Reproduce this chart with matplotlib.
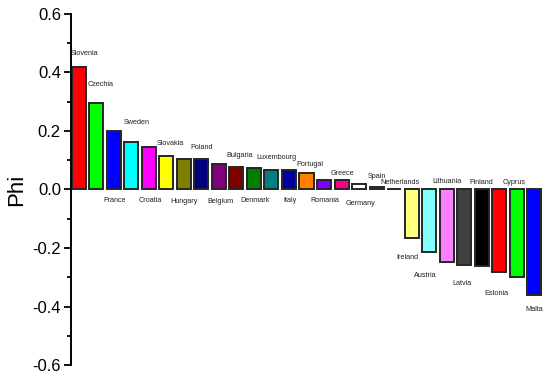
import matplotlib
matplotlib.use("Agg")
import matplotlib.pyplot as plt
from matplotlib.ticker import MultipleLocator

plt.rcParams['font.family'] = ['Liberation Sans', 'DejaVu Sans']

countries = ["Slovenia", "Czechia", "France", "Sweden", "Croatia", "Slovakia", "Hungary",
             "Poland", "Belgium", "Bulgaria", "Denmark", "Luxembourg", "Italy", "Portugal",
             "Romania", "Greece", "Germany", "Spain", "Netherlands", "Ireland", "Austria",
             "Lithuania", "Latvia", "Finland", "Estonia", "Cyprus", "Malta"]
phi = [0.418, 0.295, 0.199, 0.161, 0.144, 0.115, 0.105,
       0.104, 0.088, 0.076, 0.074, 0.068, 0.067, 0.057,
       0.033, 0.031, 0.019, 0.008, 0.003, -0.166, -0.214,
       -0.248, -0.258, -0.262, -0.283, -0.300, -0.360]
colors = ["#FF0000", "#00FF00", "#0000FF", "#00FFFF", "#FF00FF", "#FFFF00", "#808000",
          "#000080", "#800080", "#800000", "#008000", "#008080", "#0000A0", "#FF8000",
          "#8000FF", "#FF0080", "#FFFFFF", "#C0C0C0", "#808080", "#FFFF80", "#80FFFF",
          "#FF80FF", "#404040", "#000000", "#FF0000", "#00FF00", "#0000FF"]
# label placement (annotation positions)
label_y = [0.464, 0.358, -0.037, 0.229, -0.037, 0.156, -0.040,
           0.145, -0.041, 0.116, -0.036, 0.108, -0.038, 0.085,
           -0.038, 0.056, -0.047, 0.045, 0.025, -0.231, -0.294,
           0.028, -0.320, 0.025, -0.357, 0.025, -0.411]
label_dx = [0.33, 0.27, 0.07, 0.3, 0.1, 0.25, 0.0,
            0.0, 0.07, 0.2, 0.05, 0.27, 0.05, 0.19,
            0.05, 0.07, 0.1, 0.0, 0.36, -0.24, -0.22,
            0.0, -0.1, 0.0, -0.15, -0.14, 0.0]

fig = plt.figure(figsize=(5.5, 3.77), dpi=100)
ax = fig.add_axes([0.1285, 0.0318, 0.862, 0.9312])

x = list(range(len(countries)))
ax.bar(x, phi, width=0.8, color=colors, edgecolor="#262626", linewidth=1.4)

for xi, name, ly, dx in zip(x, countries, label_y, label_dx):
    ax.text(xi + dx, ly, name, ha="center", va="center", fontsize=5.2, color="#222222")

ax.set_ylim(-0.6, 0.6)
ax.set_xlim(-0.46, 26.6)
ax.yaxis.set_minor_locator(MultipleLocator(0.1))
ax.set_yticks([-0.6, -0.4, -0.2, 0.0, 0.2, 0.4, 0.6])
ax.set_yticklabels(["-0.6", "-0.4", "-0.2", "0.0", "0.2", "0.4", "0.6"], fontsize=12)
ax.tick_params(axis="y", which="major", direction="out", length=5, width=1.3, pad=2)
ax.tick_params(axis="y", which="minor", direction="out", length=3, width=1.3)
ax.set_xticks([])
for s in ["top", "right", "bottom"]:
    ax.spines[s].set_visible(False)
ax.spines["left"].set_linewidth(1.4)
ax.set_ylabel("Phi", fontsize=16, labelpad=4)

fig.savefig("out.png", dpi=100)
